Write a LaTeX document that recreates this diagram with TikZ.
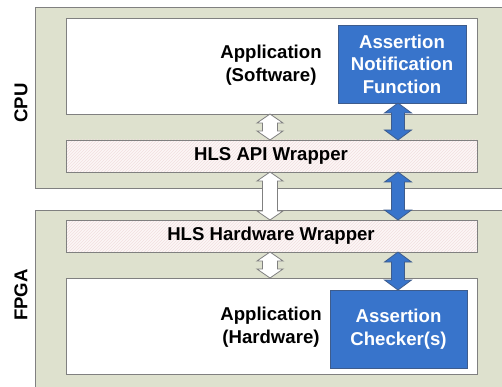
\documentclass[tikz,border=0pt]{standalone}
\usepackage{fontspec}
\setmainfont{Liberation Sans}
\usetikzlibrary{patterns,calc}
\definecolor{envgreen}{RGB}{222,225,206}
\definecolor{boxgray}{RGB}{128,128,128}
\definecolor{hatchbg}{RGB}{252,246,246}
\definecolor{hatchline}{RGB}{242,224,224}
\definecolor{asblue}{RGB}{56,116,203}
\definecolor{asborder}{RGB}{62,92,140}
\newcommand\dblarrow[6]{%
  \draw[#1] let \p1=(#2), \p2=(#3) in
  (\x1,\y1) -- (\x1+#5,\y1-#6) -- (\x1+#4,\y1-#6) -- (\x1+#4,\y2+#6)
  -- (\x1+#5,\y2+#6) -- (\x1,\y2) -- (\x1-#5,\y2+#6) -- (\x1-#4,\y2+#6)
  -- (\x1-#4,\y1-#6) -- (\x1-#5,\y1-#6) -- cycle;}
\begin{document}
\begin{tikzpicture}[x=1pt,y=-1pt,
  every node/.style={font=\fontsize{18.6}{22.5}\selectfont\bfseries, outer sep=0pt, inner sep=0pt},
  envbox/.style={draw=boxgray, line width=0.8pt, fill=envgreen, anchor=north west},
  whitebox/.style={draw=boxgray, line width=0.8pt, fill=white, anchor=north west},
  wrapbox/.style={draw=boxgray, line width=0.8pt, preaction={fill=hatchbg}, pattern=north east lines, pattern color=hatchline, anchor=north west},
  bluebox/.style={draw=asborder, line width=0.8pt, fill=asblue, anchor=north west},
  whitearrow/.style={draw=boxgray, line width=0.8pt, fill=white},
  bluearrow/.style={draw=asborder, line width=0.8pt, fill=asblue},
  lbl/.style={align=center, text=black},
  bluelbl/.style={align=center, text=white}]
\useasboundingbox (0,0) rectangle (502,387);
\fill[white] (0,0) rectangle (502,387);
% environments
\node[envbox, minimum width=480pt, minimum height=181pt] (cpu) at (35,7) {};
\node[envbox, minimum width=480pt, minimum height=200pt] (fpga) at (35,210) {};
\node[rotate=90] (cpulbl) at (21,103) {CPU};
\node[rotate=90] (fpgalbl) at (21,295) {FPGA};
% software side
\node[whitebox, minimum width=411pt, minimum height=96pt] (appsw) at (66,18) {};
\node[lbl] (appswlbl) at (271,65) {Application\\(Software)};
\node[bluebox, minimum width=128pt, minimum height=78pt] (notif) at (338,25) {};
\node[bluelbl] (notiflbl) at (notif.center) {Assertion\\Notification\\Function};
\node[wrapbox, minimum width=411pt, minimum height=32pt] (api) at (66,140) {};
\node[lbl] (apilbl) at (271,156) {HLS API Wrapper};
% hardware side
\node[wrapbox, minimum width=411pt, minimum height=32pt] (hww) at (66,220) {};
\node[lbl] (hwwlbl) at (271,236) {HLS Hardware Wrapper};
\node[whitebox, minimum width=411pt, minimum height=96pt] (apphw) at (66,278) {};
\node[lbl] (apphwlbl) at (271,327) {Application\\(Hardware)};
\node[bluebox, minimum width=137pt, minimum height=78pt] (chk) at (330,290) {};
\node[bluelbl] (chklbl) at (chk.center) {Assertion\\Checker(s)};
% arrows
\coordinate (wx) at (270,0);
\coordinate (bx) at (398,0);
\dblarrow{whitearrow}{appsw.south -| wx}{api.north -| wx}{7.5pt}{13pt}{9pt}
\dblarrow{whitearrow}{api.south -| wx}{hww.north -| wx}{7.5pt}{13pt}{9pt}
\dblarrow{whitearrow}{hww.south -| wx}{apphw.north -| wx}{7.5pt}{13pt}{9pt}
\dblarrow{bluearrow}{notif.south -| bx}{api.north -| bx}{6.5pt}{13.5pt}{10pt}
\dblarrow{bluearrow}{api.south -| bx}{hww.north -| bx}{6.5pt}{13.5pt}{10pt}
\dblarrow{bluearrow}{hww.south -| bx}{chk.north -| bx}{6.5pt}{13.5pt}{10pt}
\end{tikzpicture}
\end{document}
